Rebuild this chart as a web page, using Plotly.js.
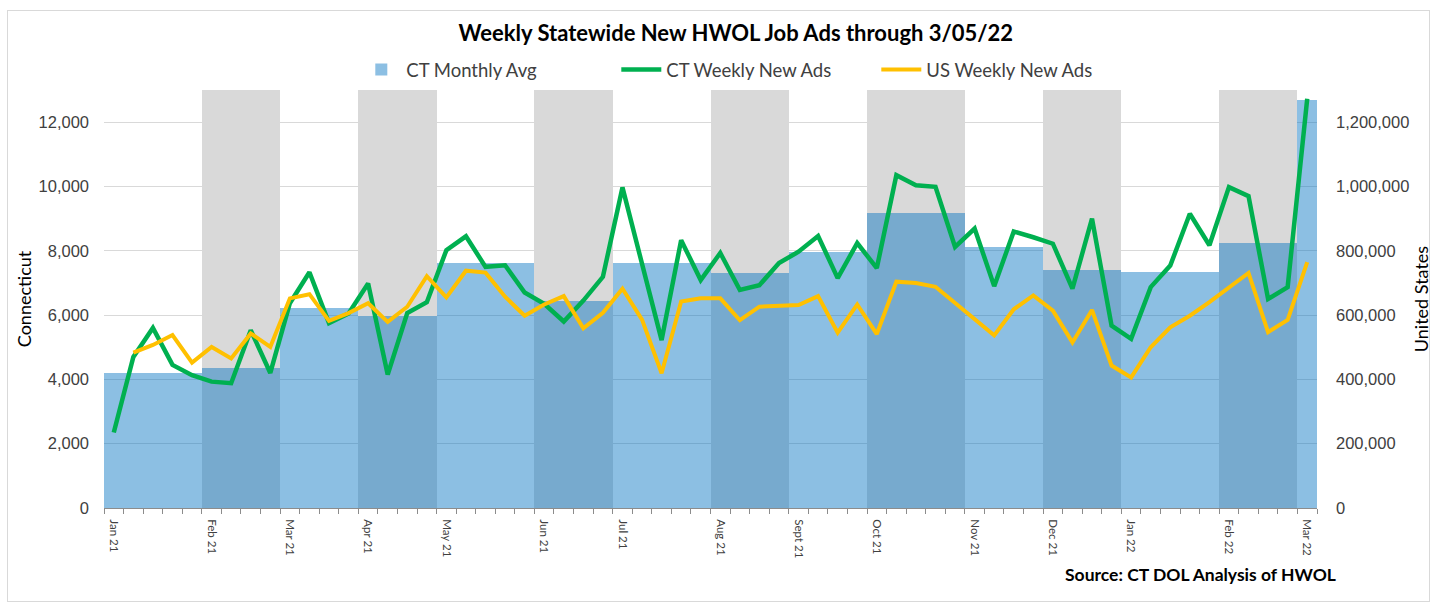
<!DOCTYPE html>
<html>
<head>
<meta charset="utf-8">
<script src="https://cdn.plot.ly/plotly-3.0.1.min.js"></script>
<style>
  html, body { margin: 0; padding: 0; background: #ffffff; }
  #chart { width: 1440px; height: 606px; }
  #frame { position: absolute; left: 7px; top: 10px; width: 1423px; height: 592px;
           border: 1px solid #d9d9d9; pointer-events: none; box-sizing: border-box; }
</style>
</head>
<body>
<div id="chart"></div>
<div id="frame"></div>
<script>
// ---- Data ----
var monthLabels = ["Jan 21","Feb 21","Mar 21","Apr 21","May 21","Jun 21","Jul 21","Aug 21",
                   "Sept 21","Oct 21","Nov 21","Dec 21","Jan 22","Feb 22","Mar 22"];
var weeksPerMonth = [5,4,4,4,5,4,5,4,4,5,4,4,5,4,1];
var ctMonthlyAvg = [4200,4350,6230,5970,7630,6430,7630,7300,7950,9180,8120,7400,7350,8250,12700];
var shadedMonth = [false,true,false,true,false,true,false,true,false,true,false,true,false,true,false];
var shadeTop = 13000;

var ctWeekly = [2350,4700,5600,4450,4130,3930,3880,5530,4200,6370,
                7330,5750,6050,6980,4150,6060,6400,8020,8450,7500,
                7550,6700,6350,5800,6450,7190,9970,7550,5220,8330,
                7090,7930,6780,6930,7620,7970,8460,7150,8240,7460,
                10350,10040,9990,8120,8690,6900,8600,8420,8220,6820,
                9000,5670,5260,6870,7540,9150,8170,9980,9700,6500,
                6870,12730];
var usWeekly = [null,483000,507000,538000,452000,501000,465000,543000,501000,652000,
                665000,582000,606000,637000,579000,626000,721000,655000,738000,732000,
                657000,598000,633000,659000,559000,607000,682000,586000,419000,642000,
                652000,652000,584000,626000,628000,631000,659000,545000,633000,541000,
                704000,700000,688000,638000,588000,537000,618000,661000,614000,515000,
                616000,443000,406000,500000,562000,598000,640000,687000,731000,547000,
                585000,765000];

// ---- Derived positions on the weekly index axis ----
var monthStart = [];
var acc = 0;
weeksPerMonth.forEach(function (n) { monthStart.push(acc); acc += n; });
var monthCenter = monthStart.map(function (s, i) { return s + (weeksPerMonth[i] - 1) / 2; });
var weekIdx = ctWeekly.map(function (_, i) { return i; });

var shadeX = [], shadeW = [], shadeY = [];
monthCenter.forEach(function (c, i) {
  if (shadedMonth[i]) { shadeX.push(c); shadeW.push(weeksPerMonth[i]); shadeY.push(shadeTop); }
});

var labelFont = "Lato, 'Noto Sans', sans-serif";
var numFont = "'Liberation Sans', Arial, sans-serif";

var traces = [
  { type: 'bar', x: shadeX, y: shadeY, width: shadeW, yaxis: 'y',
    marker: { color: '#d9d9d9', line: { width: 0 } }, showlegend: false, hoverinfo: 'skip' },
  { type: 'bar', name: 'CT Monthly Avg', x: monthCenter, y: ctMonthlyAvg, width: weeksPerMonth,
    yaxis: 'y', marker: { color: 'rgba(0,112,192,0.45)', line: { width: 0 } } },
  { type: 'scatter', mode: 'lines', name: 'CT Weekly New Ads', x: weekIdx, y: ctWeekly, yaxis: 'y',
    line: { color: '#00b050', width: 4.5 } },
  { type: 'scatter', mode: 'lines', name: 'US Weekly New Ads', x: weekIdx, y: usWeekly, yaxis: 'y2',
    line: { color: '#ffc000', width: 4 }, connectgaps: false }
];

var layout = {
  width: 1440, height: 606,
  margin: { l: 104, r: 123, t: 90, b: 98, pad: 0 },
  paper_bgcolor: '#ffffff', plot_bgcolor: '#ffffff',
  barmode: 'overlay', bargap: 0,
  title: { text: '<b>Weekly Statewide New HWOL Job Ads through 3/05/22</b>',
           x: 0.511, xanchor: 'center', y: 0.9455, yanchor: 'middle',
           font: { family: labelFont, size: 22, color: '#000000' } },
  legend: { orientation: 'h', x: 0.208, xanchor: 'left', y: 1.048, yanchor: 'middle',
            font: { family: labelFont, size: 18.5, color: '#404040' },
            bgcolor: 'rgba(0,0,0,0)', itemwidth: 40, tracegroupgap: 0,
            entrywidth: 205, entrywidthmode: 'pixels' },
  xaxis: {
    range: [-0.5, 61.5], showgrid: false, zeroline: false,
    showline: true, linecolor: '#8c8c8c', linewidth: 1,
    tickmode: 'array', tickvals: monthStart, ticktext: monthLabels,
    tickangle: 90, ticks: '', ticklabelstandoff: 8,
    tickfont: { family: labelFont, size: 11.5, color: '#404040' },
    minor: { tickmode: 'linear', tick0: -0.5, dtick: 1, ticks: 'outside', ticklen: 5,
             tickcolor: '#8c8c8c', tickwidth: 1, showgrid: false }
  },
  yaxis: {
    range: [0, 13000], dtick: 2000, tick0: 0, tickformat: ',d',
    showgrid: true, gridcolor: '#d9d9d9', gridwidth: 1, zeroline: false, showline: false,
    ticks: '', ticklabelstandoff: 14,
    tickfont: { family: numFont, size: 16.5, color: '#404040' },
    title: { text: 'Connecticut', standoff: 2, font: { family: labelFont, size: 18, color: '#000000' } }
  },
  yaxis2: {
    overlaying: 'y', side: 'right', range: [0, 1300000], dtick: 200000, tick0: 0, tickformat: ',d',
    showgrid: false, zeroline: false, showline: false, ticks: '', ticklabelstandoff: 18,
    tickfont: { family: numFont, size: 16.5, color: '#404040' },
    title: { text: 'United States', standoff: 6, font: { family: labelFont, size: 18, color: '#000000' } }
  },
  annotations: [
    { text: '<b>Source: CT DOL Analysis of HWOL</b>', xref: 'paper', yref: 'paper',
      x: 1.017, xanchor: 'right', y: -0.16, yanchor: 'middle', showarrow: false,
      font: { family: labelFont, size: 17.5, color: '#000000' } }
  ]
};

Plotly.newPlot('chart', traces, layout, { displayModeBar: false, staticPlot: true });
</script>
</body>
</html>
